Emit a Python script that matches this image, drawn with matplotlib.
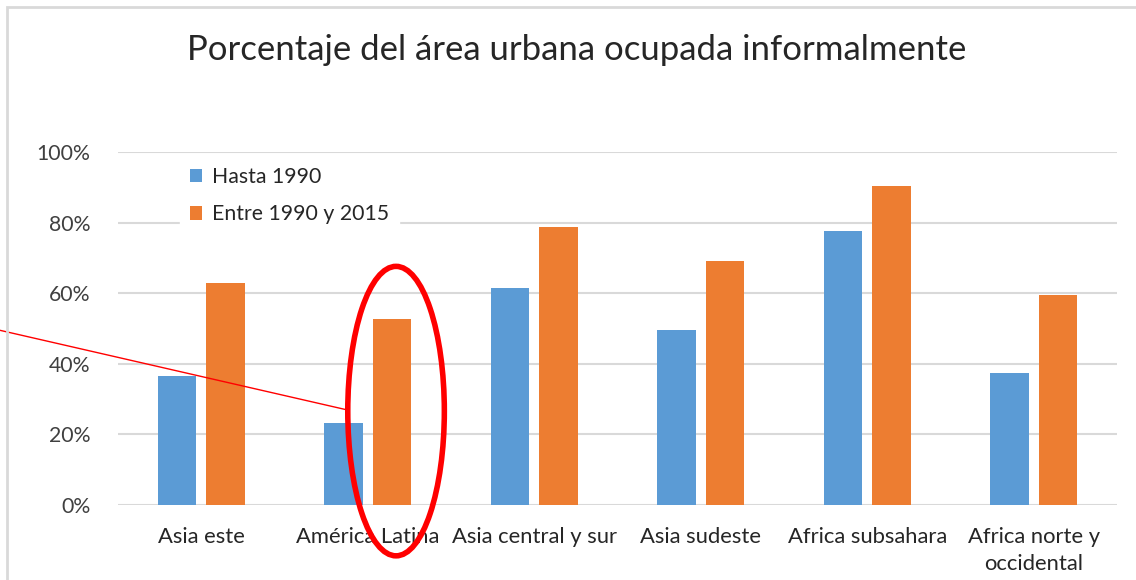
import numpy as np
import matplotlib
matplotlib.use("Agg")
import matplotlib.pyplot as plt
from matplotlib.patches import Ellipse, Rectangle
from matplotlib.ticker import PercentFormatter

# data
categories = ["Asia este", "América Latina", "Asia central y sur", "Asia sudeste",
              "Africa subsahara", "Africa norte y\noccidental"]
hasta_1990 = [36.5, 23.2, 61.5, 49.6, 77.6, 37.3]
entre_1990_2015 = [62.9, 52.7, 78.8, 69.1, 90.3, 59.4]

blue = "#5B9BD5"
orange = "#ED7D31"
txt = "#404040"

plt.rcParams["font.family"] = ["Lato", "DejaVu Sans"]

fig = plt.figure(figsize=(11.36, 5.8), dpi=100)
ax = fig.add_axes([118 / 1136, 75 / 580, (1117 - 118) / 1136, (505 - 152) / 580])

x = np.arange(len(categories))
w = 0.23
off = 0.145
ax.bar(x - off, hasta_1990, w, color=blue, label="Hasta 1990", zorder=3)
ax.bar(x + off, entre_1990_2015, w, color=orange, label="Entre 1990 y 2015", zorder=3)

ax.set_xlim(-0.5, len(categories) - 0.5)
ax.set_ylim(0, 100)
ax.set_yticks(range(0, 101, 20))
ax.yaxis.set_major_formatter(PercentFormatter(decimals=0))
ax.set_xticks(x)
ax.set_xticklabels(categories, fontsize=15.8, color="#262626", linespacing=1.42)
ax.tick_params(axis="y", labelsize=15.3, labelcolor=txt, length=0, pad=20)
ax.tick_params(axis="x", length=0, pad=16)
ax.grid(axis="y", color="#D9D9D9", linewidth=1.5, zorder=0)
for s in ax.spines.values():
    s.set_visible(False)

leg = ax.legend(loc="upper left", bbox_to_anchor=(0.062, 0.985), frameon=True,
                fontsize=15.3, handlelength=0.6, handleheight=0.6, handletextpad=0.45,
                labelspacing=0.82, borderpad=0.45, borderaxespad=0)
leg.get_frame().set_facecolor("white")
leg.get_frame().set_edgecolor("white")
leg.get_frame().set_alpha(1)
for t in leg.get_texts():
    t.set_color("#262626")

# red annotation: ellipse around América Latina and pointer line
ell = Ellipse((1.17, 26.6), 0.58, 82, fill=False, edgecolor="#FF0000",
              linewidth=4, clip_on=False, zorder=5)
ax.add_patch(ell)
ax.plot([-1.21, 0.88], [49.5, 26.9], color="#FF0000", linewidth=1,
        clip_on=False, zorder=5)

fig.suptitle("Porcentaje del área urbana ocupada informalmente", x=0.508, y=0.942,
             fontsize=25, color="#262626")

# outer chart border (cropped at right and bottom)
fig.patches.append(Rectangle((7 / 1136, -0.2), 1.3, 1.2 - 7 / 580, transform=fig.transFigure,
                             fill=False, edgecolor="#D9D9D9", linewidth=2))

fig.savefig("out.png", dpi=100)
